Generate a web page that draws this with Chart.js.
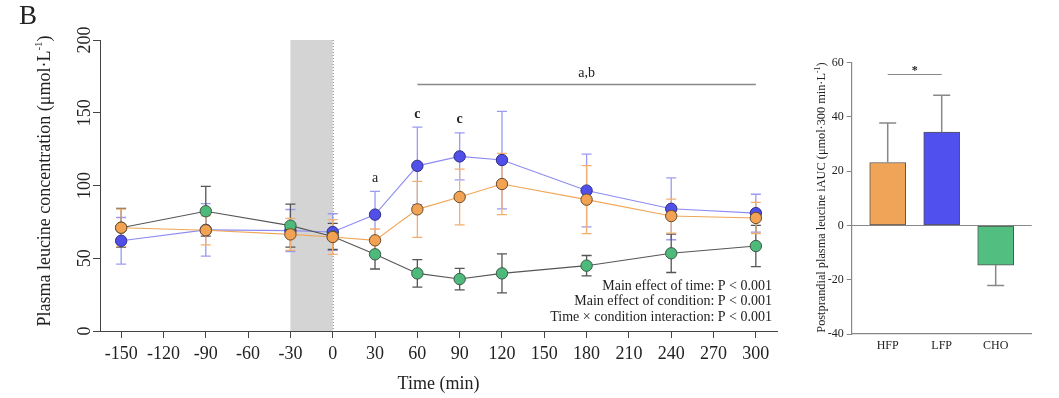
<!DOCTYPE html>
<html><head><meta charset="utf-8">
<script src="https://cdn.jsdelivr.net/npm/chart.js@4.4.1/dist/chart.umd.min.js"></script>
<style>
html,body{margin:0;padding:0;background:#fff;}
#wrap{position:relative;width:1059px;height:398px;overflow:hidden;background:#fff;}
#c1{position:absolute;left:0;top:0;}
#c2{position:absolute;left:790px;top:0;}
</style></head><body>
<div id="wrap"><canvas id="c1" width="790" height="398"></canvas><canvas id="c2" width="269" height="398"></canvas></div>
<script>
// ---- data: time course ----
const times = [-150, -90, -30, 0, 30, 60, 90, 120, 180, 240, 300];
const lfpMean = [62, 69.5, 69, 68, 80, 113.5, 120, 117.5, 96.5, 84, 81];
const lfpSd   = [16, 18, 14.5, 12.6, 16, 26.6, 16.2, 33.5, 25, 21.3, 13];
const hfpMean = [71, 69.2, 66.4, 64.6, 62.3, 83.6, 92.1, 101, 90.3, 79, 77.7];
const hfpSd   = [12.8, 10, 11, 12, 7.8, 19.3, 19.1, 21, 23.4, 11.7, 10.7];
const choMean = [71, 82.3, 72.4, 65, 52.7, 39.6, 35.7, 39.6, 44.9, 53.4, 58.4];
const choSd   = [13.3, 17.1, 14.8, 9, 10.1, 9.4, 7.4, 13.4, 7, 13.2, 14.2];
const xTicks = [-150, -120, -90, -60, -30, 0, 30, 60, 90, 120, 150, 180, 210, 240, 270, 300];
const yTicks = [0, 50, 100, 150, 200];
const sigLetters = [{x: 30, y: 105, t: 'a', bold: false}, {x: 60, y: 149, t: 'c', bold: true}, {x: 90, y: 145.7, t: 'c', bold: true}];
const sigBar = {from: 60, to: 300, y: 170, label: 'a,b', labelY: 177};
const statsLines = ['Main effect of time: P < 0.001', 'Main effect of condition: P < 0.001', 'Time \u00d7 condition interaction: P < 0.001'];
// ---- data: iAUC ----
const aucCategories = ['HFP', 'LFP', 'CHO'];
const aucMean = [23.2, 34.4, -14.6];
const aucSd = [14.6, 13.6, 7.5];
const aucTicks = [-40, -20, 0, 20, 40, 60];
const aucSig = {from: 1, to: 2, y: 55.8, label: '*'};

const SERIF = '"Liberation Serif", "Times New Roman", serif';
const TXT = '#222';

function drawRotatedParts(ctx, bx, cy, parts) {
  ctx.save();
  let total = 0;
  parts.forEach(p => { ctx.font = p.size + 'px ' + SERIF; p.w = ctx.measureText(p.t).width; total += p.w; });
  ctx.translate(bx, cy);
  ctx.rotate(-Math.PI / 2);
  ctx.textBaseline = 'alphabetic';
  ctx.textAlign = 'left';
  ctx.fillStyle = TXT;
  let xx = -total / 2;
  parts.forEach(p => { ctx.font = p.size + 'px ' + SERIF; ctx.fillText(p.t, xx, -(p.rise || 0)); xx += p.w; });
  ctx.restore();
}

const bandPlugin = {
  id: 'band',
  beforeDatasetsDraw(chart) {
    const {ctx, chartArea: a, scales: {x}} = chart;
    const x0 = x.getPixelForValue(-30), x1 = x.getPixelForValue(0);
    ctx.save();
    ctx.fillStyle = '#d4d4d4';
    ctx.fillRect(x0, a.top, x1 - x0, a.bottom - a.top);
    ctx.strokeStyle = '#777';
    ctx.lineWidth = 1;
    ctx.setLineDash([1, 2]);
    ctx.beginPath(); ctx.moveTo(x1 + 0.5, a.top); ctx.lineTo(x1 + 0.5, a.bottom); ctx.stroke();
    ctx.restore();
  }
};

const errPlugin = {
  id: 'errs',
  beforeDatasetsDraw(chart) {
    const {ctx, scales: {x, y}} = chart;
    chart.data.datasets.forEach(ds => {
      ctx.save();
      ctx.strokeStyle = ds.errColor;
      ctx.lineWidth = 1.3;
      ds.data.forEach((p, j) => {
        const px = x.getPixelForValue(p.x);
        const t = y.getPixelForValue(p.y + ds.sd[j]);
        const b = y.getPixelForValue(p.y - ds.sd[j]);
        ctx.beginPath();
        ctx.moveTo(px, t); ctx.lineTo(px, b);
        ctx.moveTo(px - 5, t); ctx.lineTo(px + 5, t);
        ctx.moveTo(px - 5, b); ctx.lineTo(px + 5, b);
        ctx.stroke();
      });
      ctx.restore();
    });
  }
};

const textPlugin1 = {
  id: 'text1',
  afterDraw(chart) {
    const {ctx, chartArea: a, scales: {x, y}} = chart;
    ctx.save();
    ctx.fillStyle = TXT;
    // rotated y tick labels
    ctx.font = '18px ' + SERIF;
    yTicks.forEach(v => {
      const py = y.getPixelForValue(v);
      ctx.save();
      ctx.translate(89.5, py);
      ctx.rotate(-Math.PI / 2);
      ctx.textAlign = 'center';
      ctx.textBaseline = 'alphabetic';
      ctx.fillText(String(v), 0, 0);
      ctx.restore();
    });
    // panel letter
    ctx.font = '27px ' + SERIF;
    ctx.textAlign = 'left';
    ctx.textBaseline = 'alphabetic';
    ctx.fillText('B', 19, 24);
    // significance letters
    sigLetters.forEach(s => {
      ctx.font = (s.bold ? 'bold ' : '') + '14px ' + SERIF;
      ctx.textAlign = 'center';
      ctx.textBaseline = 'middle';
      ctx.fillText(s.t, x.getPixelForValue(s.x), y.getPixelForValue(s.y));
    });
    // bracket
    ctx.strokeStyle = '#888';
    ctx.lineWidth = 1.5;
    const by = Math.round(y.getPixelForValue(sigBar.y)) + 0.5;
    ctx.beginPath(); ctx.moveTo(x.getPixelForValue(sigBar.from), by); ctx.lineTo(x.getPixelForValue(sigBar.to), by); ctx.stroke();
    ctx.font = '14px ' + SERIF;
    ctx.textAlign = 'center';
    ctx.fillText(sigBar.label, x.getPixelForValue((sigBar.from + sigBar.to) / 2), y.getPixelForValue(sigBar.labelY));
    // stats text
    ctx.textAlign = 'right';
    ctx.textBaseline = 'middle';
    statsLines.forEach((l, i) => ctx.fillText(l, 772, 286 + i * 15.5));
    ctx.restore();
    // y title
    drawRotatedParts(ctx, 49.5, 181, [
      {t: 'Plasma leucine concentration (\u03bcmol\u00b7L', size: 18},
      {t: '-1', size: 11, rise: 8},
      {t: ')', size: 18}
    ]);
  }
};

const mk = (label, mean, sd, fill, line, err, border, order) => ({
  label, order,
  data: times.map((t, i) => ({x: t, y: mean[i]})),
  sd, errColor: err,
  borderColor: line, borderWidth: 1.1,
  pointRadius: 5.7, pointBackgroundColor: fill, pointBorderColor: border, pointBorderWidth: 1,
  tension: 0, fill: false
});

new Chart(document.getElementById('c1'), {
  type: 'line',
  data: {datasets: [
    mk('LFP', lfpMean, lfpSd, '#5050e8', '#8c8cf2', '#9a9af2', '#2e2e8a', 3),
    mk('CHO', choMean, choSd, '#4dba7c', '#555', '#555', '#3a5a44', 2),
    mk('HFP', hfpMean, hfpSd, '#f2a253', '#f0a656', '#f2b070', '#6a4a2a', 1)
  ]},
  options: {
    responsive: false, animation: false, devicePixelRatio: 1,
    layout: {padding: {left: 0, right: 13, top: 40, bottom: 0}},
    plugins: {legend: {display: false}, tooltip: {enabled: false}},
    scales: {
      x: {
        type: 'linear', min: -165, max: 315,
        afterBuildTicks: s => { s.ticks = xTicks.map(v => ({value: v})); },
        afterFit: s => { s.height = 67; },
        grid: {display: true, drawOnChartArea: false, drawTicks: true, tickLength: 7, color: '#444'},
        border: {display: true, color: '#444', width: 1},
        ticks: {font: {family: SERIF, size: 18}, color: TXT, padding: 5, maxRotation: 0, autoSkip: false, callback: v => String(v)},
        title: {display: true, text: 'Time (min)', font: {family: SERIF, size: 18}, color: TXT, padding: {top: 0, bottom: 3}}
      },
      y: {
        type: 'linear', min: 0, max: 200,
        afterBuildTicks: s => { s.ticks = yTicks.map(v => ({value: v})); },
        afterFit: s => { s.width = 100; },
        grid: {display: true, drawOnChartArea: false, drawTicks: true, tickLength: 7, color: '#444'},
        border: {display: true, color: '#444', width: 1},
        ticks: {display: false}
      }
    }
  },
  plugins: [bandPlugin, errPlugin, textPlugin1]
});

// ---- iAUC chart ----
const barPlugin = {
  id: 'barExtras',
  beforeDatasetsDraw(chart) {
    const {ctx, chartArea: a, scales: {y}} = chart;
    const zy = Math.round(y.getPixelForValue(0)) + 0.5;
    ctx.save();
    ctx.strokeStyle = '#888'; ctx.lineWidth = 1.2;
    ctx.beginPath(); ctx.moveTo(a.left, zy); ctx.lineTo(a.right, zy); ctx.stroke();
    ctx.restore();
  },
  afterDatasetsDraw(chart) {
    const {ctx, scales: {x, y}} = chart;
    ctx.save();
    ctx.strokeStyle = '#888'; ctx.lineWidth = 1.5;
    aucMean.forEach((m, i) => {
      const px = x.getPixelForValue(i + 1);
      const s = m >= 0 ? 1 : -1;
      const p0 = y.getPixelForValue(m), p1 = y.getPixelForValue(m + s * aucSd[i]);
      ctx.beginPath(); ctx.moveTo(px, p0); ctx.lineTo(px, p1);
      ctx.moveTo(px - 8.5, p1); ctx.lineTo(px + 8.5, p1); ctx.stroke();
    });
    // bracket
    ctx.lineWidth = 1.2;
    const by = Math.round(y.getPixelForValue(aucSig.y)) + 0.5;
    ctx.beginPath(); ctx.moveTo(x.getPixelForValue(aucSig.from), by); ctx.lineTo(x.getPixelForValue(aucSig.to), by); ctx.stroke();
    ctx.fillStyle = TXT;
    ctx.font = 'bold 12px ' + SERIF;
    ctx.textAlign = 'center'; ctx.textBaseline = 'alphabetic';
    ctx.fillText(aucSig.label, x.getPixelForValue((aucSig.from + aucSig.to) / 2), by - 1);
    ctx.restore();
  },
  afterDraw(chart) {
    const {ctx} = chart;
    drawRotatedParts(ctx, 35, 197.5, [
      {t: 'Postprandial plasma leucine iAUC (\u03bcmol\u00b7300 min\u00b7L', size: 12.3},
      {t: '-1', size: 8, rise: 5},
      {t: ')', size: 12.3}
    ]);
  }
};

new Chart(document.getElementById('c2'), {
  type: 'bar',
  data: {datasets: [{
    data: aucCategories.map((c, i) => ({x: i + 1, y: aucMean[i]})),
    backgroundColor: ['#f0a458', '#5050ee', '#52be80'],
    borderColor: '#555', borderWidth: 1, borderSkipped: false,
    barThickness: 36
  }]},
  options: {
    responsive: false, animation: false, devicePixelRatio: 1,
    layout: {padding: {left: 0, right: 27.3, top: 62.7, bottom: 0}},
    plugins: {legend: {display: false}, tooltip: {enabled: false}},
    scales: {
      x: {
        type: 'linear', min: 0.333, max: 3.667, offset: false,
        afterBuildTicks: s => { s.ticks = aucCategories.map((c, i) => ({value: i + 1})); },
        afterFit: s => { s.height = 64; },
        grid: {display: true, drawOnChartArea: false, drawTicks: false, offset: false, color: '#888'},
        border: {display: true, color: '#888', width: 1.2},
        ticks: {font: {family: SERIF, size: 12}, color: TXT, padding: 5, maxRotation: 0, autoSkip: false,
          callback: v => aucCategories[Math.round(v) - 1] || ''}
      },
      y: {
        type: 'linear', min: -40, max: 60,
        afterBuildTicks: s => { s.ticks = aucTicks.map(v => ({value: v})); },
        afterFit: s => { s.width = 61.7; },
        grid: {display: true, drawOnChartArea: false, drawTicks: true, tickLength: 5, color: '#888'},
        border: {display: true, color: '#888', width: 1.2},
        ticks: {font: {family: SERIF, size: 12}, color: TXT, padding: 3}
      }
    }
  },
  plugins: [barPlugin]
});
</script>
</body></html>
